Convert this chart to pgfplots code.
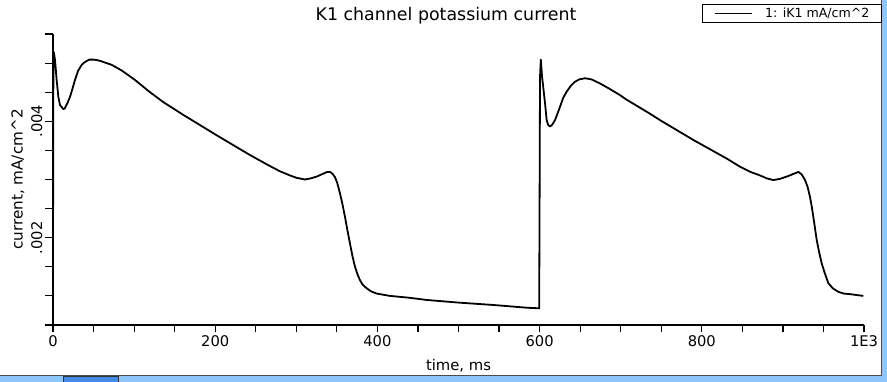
\documentclass[border=0pt]{standalone}
\usepackage{fontspec}
\setmainfont{DejaVu Sans}
\usepackage{pgfplots}
\pgfplotsset{compat=1.18}
\definecolor{winblue}{RGB}{140,198,250}
\definecolor{windark}{RGB}{70,140,230}
\begin{document}
\begin{tikzpicture}[x=1pt,y=1pt]
\useasboundingbox (0,0) rectangle (887,382);
\fill[white] (0,0) rectangle (887,382);
% window chrome
\fill[winblue] (0,0) rectangle (887,6);
\fill[winblue] (882,0) rectangle (887,382);
\fill[windark] (63,0) rectangle (118,6);
\draw[black!80,line width=0.8pt] (63,0) -- (63,6) -- (118,6) -- (118,0);
\draw[black!70,line width=0.8pt] (0,6.5) -- (881.5,6.5) -- (881.5,382);
\begin{axis}[
  at={(53pt,57pt)}, anchor=south west,
  scale only axis, width=811pt, height=291pt,
  xmin=0, xmax=1000, ymin=0.0005, ymax=0.0055,
  axis x line*=bottom, axis y line*=left,
  axis line style={line width=1.2pt},
  every tick/.style={black,line width=1.2pt},
  tick align=outside,
  major tick length=7.5pt, minor tick length=7.5pt,
  xtick={0,200,400,600,800,1000},
  xticklabels={0,200,400,600,800,1E3},
  minor xtick={50,100,150,250,300,350,450,500,550,650,700,750,850,900,950},
  ytick={0.002,0.004},
  yticklabels={.002,.004},
  minor ytick={0.0005,0.001,0.0015,0.0025,0.003,0.0035,0.0045,0.005,0.0055},
  scaled y ticks=false,
  /pgf/number format/assume math mode=true,
  ticklabel style={font=\fontsize{14.7}{16}\selectfont},
  yticklabel style={rotate=90, anchor=south, inner sep=3pt},
  xticklabel style={anchor=north, inner sep=3pt},
  title={K1 channel potassium current},
  title style={at={(axis description cs:0.4846,1.0653)}, anchor=center, yshift=-7pt, font=\fontsize{17.4}{19}\selectfont},
  xlabel={time, ms},
  xlabel style={at={(axis description cs:0.5,-0.1409)}, anchor=center, font=\fontsize{14.8}{17}\selectfont},
  ylabel={current, mA/cm\^{}2},
  ylabel style={at={(axis description cs:-0.0432,0.5)}, anchor=center, rotate=0, font=\fontsize{15.2}{17}\selectfont},
  legend style={at={(axis description cs:1.0222,1.1031)}, anchor=north east,
    draw=black, line width=1pt, font=\fontsize{12.6}{14}\selectfont,
    inner xsep=12pt, inner ysep=0pt, row sep=0pt,
    nodes={inner xsep=0pt, inner ysep=3.5pt}},
  legend cell align=left,
  legend image code/.code={\draw[line width=1.8pt] (0pt,0pt) -- (37pt,0pt);},
]
\addplot[black, line width=1.8pt, line join=round] coordinates {
(0,0.00174) (0.5,0.00500) (1.0,0.00519) (2.0,0.00510) (2.5,0.00505)
(4.5,0.00471) (6.6,0.00442) (8.6,0.00428) (12.7,0.00421) (14.5,0.00422)
(18,0.00432) (21.0,0.00442) (24,0.00456) (27.1,0.00471) (31,0.00487)
(35.4,0.00497) (38.5,0.00501) (42,0.00504) (45,0.00506) (49.7,0.00506)
(55,0.00505) (60,0.00503) (66,0.00500) (72.4,0.00497) (85,0.00487)
(101.1,0.00471) (119.6,0.00450) (136,0.00433) (160.7,0.00411) (201.8,0.00376)
(242.9,0.00342) (267.6,0.00323) (280,0.00314) (292.2,0.00307) (300,0.00303)
(310.7,0.00300) (318,0.00302) (325.2,0.00305) (330,0.00308) (335,0.00311)
(338,0.00313) (341.6,0.00313) (344.5,0.00310) (347.7,0.00304) (350.5,0.00294)
(353.9,0.00276) (357,0.00257) (360.0,0.00236) (363,0.00213) (366.2,0.00190)
(369.3,0.00168) (372.4,0.00150) (375.5,0.00137) (378.5,0.00127) (382,0.00119)
(386.8,0.00113) (392,0.00108) (399.1,0.00104) (415.5,0.00100) (438.1,0.00097)
(460.8,0.00093) (501.8,0.000883) (542.9,0.000844) (584.1,0.000797) (599.5,0.000787)
(600,0.00270) (600.5,0.00476) (601.5,0.00506) (603,0.00477) (606.7,0.00431)
(608.7,0.00402) (610.5,0.00394) (612.8,0.00391) (615.5,0.00394) (619,0.00402)
(622,0.00413) (625.2,0.00425) (629,0.00440) (633.4,0.00451) (638.5,0.00461)
(643.6,0.00468) (649,0.00472) (656,0.00474) (664,0.00472) (674.5,0.00465)
(686,0.00456) (699.1,0.00445) (707.4,0.00437) (736.1,0.00413) (748.5,0.00402)
(789.5,0.00368) (830.7,0.00336) (847.1,0.00322) (860,0.00313) (871.8,0.00307)
(880,0.00302) (888.2,0.00299) (896,0.00301) (904.7,0.00305) (912,0.00309)
(919.0,0.00313) (923,0.00309) (927.3,0.00299) (930.5,0.00287) (933.4,0.00270)
(935.5,0.00254) (937.5,0.00236) (939.6,0.00216) (941.7,0.00196) (944.7,0.00175)
(947.8,0.00156) (951.9,0.00138) (956.0,0.00122) (961.5,0.00113) (968.3,0.00107)
(975,0.00104) (982.7,0.00103) (999.1,0.00100)
};
\addlegendentry{\hspace{12pt}1: iK1 mA/cm\^{}2}
\end{axis}
\end{tikzpicture}
\end{document}
